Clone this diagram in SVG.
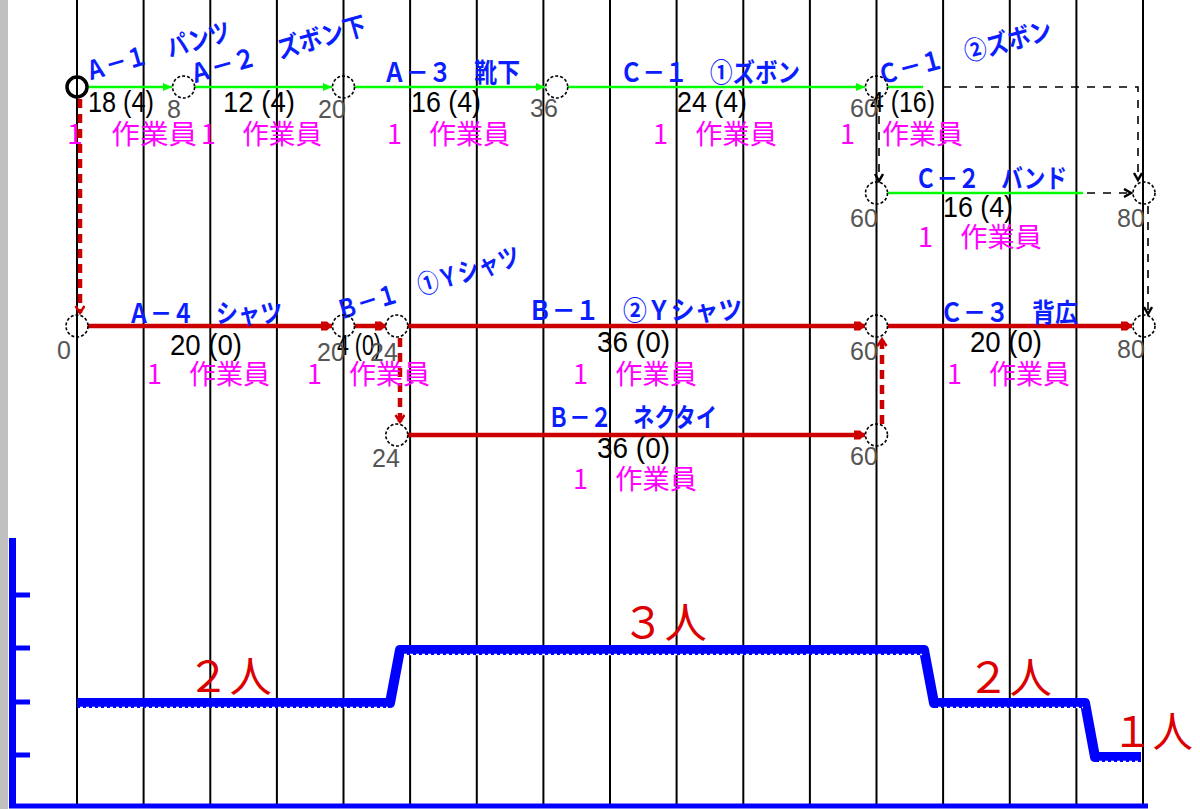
<svg xmlns="http://www.w3.org/2000/svg" width="1200" height="809" viewBox="0 0 1200 809">
<style>
.grid{stroke:#000;stroke-width:2}
.nd{fill:none;stroke:#000;stroke-width:1.6;stroke-dasharray:3 2}
.nds{fill:none;stroke:#000;stroke-width:3.5}
.num{font-family:"Liberation Sans",sans-serif;font-size:25px;fill:#555}
.gr{stroke:#00ff00;stroke-width:2.5;fill:none}
.rd{stroke:#cc0000;stroke-width:4.5;fill:none}
.rdd{stroke:#cc0000;stroke-width:4.5;fill:none;stroke-dasharray:9 6}
.bkd{stroke:#000;stroke-width:1.6;fill:none;stroke-dasharray:8 8}
.lbl{font-family:"Noto Sans CJK JP",sans-serif;font-weight:bold;font-size:26px;fill:#0a1eff}
.dur{font-family:"Liberation Sans",sans-serif;font-size:29px;fill:#000}
.crew{font-family:"Noto Sans CJK JP",sans-serif;font-size:27px;fill:#ff00ff}
.ppl{font-family:"Noto Sans CJK JP",sans-serif;font-size:42px;fill:#dd0000}
.ax{stroke:#0000ff;fill:none}
</style>
<defs>
<marker id="ag" markerUnits="userSpaceOnUse" markerWidth="10" markerHeight="10" refX="9" refY="4" orient="auto"><path d="M0,0 L9,4 L0,8 z" fill="#00ff00"/></marker>
<marker id="ar" markerUnits="userSpaceOnUse" markerWidth="12" markerHeight="12" refX="11" refY="5" orient="auto"><path d="M0,0.5 L6,0.5 L11,5 L6,9.5 L0,9.5 z" fill="#cc0000"/></marker>
<marker id="av" markerUnits="userSpaceOnUse" markerWidth="12" markerHeight="12" refX="8" refY="5" orient="auto"><path d="M1,0.5 L8,5 L1,9.5" fill="none" stroke="#cc0000" stroke-width="2.5"/></marker>
<marker id="ak" markerUnits="userSpaceOnUse" markerWidth="12" markerHeight="12" refX="8" refY="5" orient="auto"><path d="M1,1 L8,5 L1,9" fill="none" stroke="#000" stroke-width="2.5"/></marker>
</defs>
<rect x="0" y="0" width="1200" height="809" fill="#fff"/>
<rect x="0" y="0" width="8" height="809" fill="#c0c0c0"/>
<g id="grid">
<line class="grid" x1="77" y1="0" x2="77" y2="804"/>
<line class="grid" x1="143.6" y1="0" x2="143.6" y2="804"/>
<line class="grid" x1="210.3" y1="0" x2="210.3" y2="804"/>
<line class="grid" x1="276.9" y1="0" x2="276.9" y2="804"/>
<line class="grid" x1="343.5" y1="0" x2="343.5" y2="804"/>
<line class="grid" x1="410.1" y1="0" x2="410.1" y2="804"/>
<line class="grid" x1="476.8" y1="0" x2="476.8" y2="804"/>
<line class="grid" x1="543.4" y1="0" x2="543.4" y2="804"/>
<line class="grid" x1="610" y1="0" x2="610" y2="804"/>
<line class="grid" x1="676.6" y1="0" x2="676.6" y2="804"/>
<line class="grid" x1="743.3" y1="0" x2="743.3" y2="804"/>
<line class="grid" x1="809.9" y1="0" x2="809.9" y2="804"/>
<line class="grid" x1="876.5" y1="0" x2="876.5" y2="804"/>
<line class="grid" x1="943.1" y1="0" x2="943.1" y2="804"/>
<line class="grid" x1="1009.8" y1="0" x2="1009.8" y2="804"/>
<line class="grid" x1="1076.4" y1="0" x2="1076.4" y2="804"/>
<line class="grid" x1="1143" y1="0" x2="1143" y2="804"/>
</g>
<g id="connectors">
<path class="gr" d="M88,87 L172,87" marker-end="url(#ag)"/>
<path class="gr" d="M195,87 L332,87" marker-end="url(#ag)"/>
<path class="gr" d="M355,87 L545,87" marker-end="url(#ag)"/>
<path class="gr" d="M568,87 L865,87" marker-end="url(#ag)"/>
<path class="gr" d="M888,87 L923,87"/>
<path class="bkd" d="M943,87 L1138,87 L1138,180" marker-end="url(#ak)"/>
<path class="bkd" d="M879,100 L879,181" marker-end="url(#ak)"/>
<path class="gr" d="M888,193 L1083,193"/>
<path class="bkd" d="M1087,193 L1131,193" marker-end="url(#ak)"/>
<path class="bkd" d="M1148,206 L1148,314" marker-end="url(#ak)"/>
<path class="rdd" d="M80,99 L80,313" marker-end="url(#av)"/>
<path class="rd" d="M88,326 L332,326" marker-end="url(#ar)"/>
<path class="rd" d="M355,326 L386,326" marker-end="url(#ar)"/>
<path class="rd" d="M408,326 L865,326" marker-end="url(#ar)"/>
<path class="rd" d="M888,326 L1132,326" marker-end="url(#ar)"/>
<path class="rdd" d="M400,338 L400,422" marker-end="url(#av)"/>
<path class="rd" d="M408,435 L865,435" marker-end="url(#ar)"/>
<path class="rdd" d="M882,424 L882,339" marker-end="url(#av)"/>
</g>
<g id="edge-labels">
<text class="lbl" x="88" y="81" textLength="150" lengthAdjust="spacingAndGlyphs" transform="rotate(-16 88 81)">Ａ－１　パンツ</text>
<text class="lbl" x="192" y="84" textLength="183" lengthAdjust="spacingAndGlyphs" transform="rotate(-16 192 84)">Ａ－２　ズボン下</text>
<text class="lbl" x="383" y="82" textLength="137" lengthAdjust="spacingAndGlyphs">Ａ－３　靴下</text>
<text class="lbl" x="620" y="82" textLength="180" lengthAdjust="spacingAndGlyphs">Ｃ－１　①ズボン</text>
<text class="lbl" x="880" y="85" textLength="180" lengthAdjust="spacingAndGlyphs" transform="rotate(-15 880 85)">Ｃ－１　②ズボン</text>
<text class="lbl" x="915" y="188" textLength="152" lengthAdjust="spacingAndGlyphs">Ｃ－２　バンド</text>
<text class="lbl" x="128" y="323" textLength="154" lengthAdjust="spacingAndGlyphs">Ａ－４　シャツ</text>
<text class="lbl" x="340" y="320" textLength="190" lengthAdjust="spacingAndGlyphs" transform="rotate(-17 340 320)">Ｂ－１　①Ｙシャツ</text>
<text class="lbl" x="528" y="320" textLength="214" lengthAdjust="spacingAndGlyphs">Ｂ－１　②Ｙシャツ</text>
<text class="lbl" x="548" y="427" textLength="169" lengthAdjust="spacingAndGlyphs">Ｂ－２　ネクタイ</text>
<text class="lbl" x="940" y="322" textLength="138" lengthAdjust="spacingAndGlyphs">Ｃ－３　背広</text>
<text class="dur" x="88" y="112" textLength="66" lengthAdjust="spacingAndGlyphs">18 (4)</text>
<text class="dur" x="223" y="112" textLength="72" lengthAdjust="spacingAndGlyphs">12 (4)</text>
<text class="dur" x="411" y="112" textLength="70" lengthAdjust="spacingAndGlyphs">16 (4)</text>
<text class="dur" x="677" y="112" textLength="70" lengthAdjust="spacingAndGlyphs">24 (4)</text>
<text class="dur" x="870" y="112" textLength="65" lengthAdjust="spacingAndGlyphs">4 (16)</text>
<text class="dur" x="943" y="217" textLength="70" lengthAdjust="spacingAndGlyphs">16 (4)</text>
<text class="dur" x="170" y="355" textLength="72" lengthAdjust="spacingAndGlyphs">20 (0)</text>
<text class="dur" x="337" y="355" textLength="44" lengthAdjust="spacingAndGlyphs">4 (0)</text>
<text class="dur" x="597" y="352" textLength="73" lengthAdjust="spacingAndGlyphs">36 (0)</text>
<text class="dur" x="597" y="458" textLength="73" lengthAdjust="spacingAndGlyphs">36 (0)</text>
<text class="dur" x="970" y="352" textLength="72" lengthAdjust="spacingAndGlyphs">20 (0)</text>
<text class="crew" x="67" y="144" textLength="130" lengthAdjust="spacingAndGlyphs">1　作業員</text>
<text class="crew" x="201" y="144" textLength="121" lengthAdjust="spacingAndGlyphs">1　作業員</text>
<text class="crew" x="387" y="144" textLength="123" lengthAdjust="spacingAndGlyphs">1　作業員</text>
<text class="crew" x="653" y="144" textLength="124" lengthAdjust="spacingAndGlyphs">1　作業員</text>
<text class="crew" x="840" y="144" textLength="123" lengthAdjust="spacingAndGlyphs">1　作業員</text>
<text class="crew" x="918" y="247" textLength="124" lengthAdjust="spacingAndGlyphs">1　作業員</text>
<text class="crew" x="147" y="384" textLength="123" lengthAdjust="spacingAndGlyphs">1　作業員</text>
<text class="crew" x="307" y="384" textLength="123" lengthAdjust="spacingAndGlyphs">1　作業員</text>
<text class="crew" x="573" y="384" textLength="124" lengthAdjust="spacingAndGlyphs">1　作業員</text>
<text class="crew" x="947" y="384" textLength="123" lengthAdjust="spacingAndGlyphs">1　作業員</text>
<text class="crew" x="573" y="489" textLength="124" lengthAdjust="spacingAndGlyphs">1　作業員</text>
</g>
<g id="n0-top"><circle class="nds" cx="77" cy="87" r="10"/></g>
<g id="n8"><circle class="nd" cx="183.6" cy="87" r="11"/><text class="num" x="167" y="118">8</text></g>
<g id="n20-top"><circle class="nd" cx="343.5" cy="87" r="11"/><text class="num" x="318" y="118">20</text></g>
<g id="n36"><circle class="nd" cx="556.7" cy="87" r="11"/><text class="num" x="530" y="117">36</text></g>
<g id="n60-top"><circle class="nd" cx="876.5" cy="87" r="11"/><text class="num" x="850" y="117">60</text></g>
<g id="n60-c2"><circle class="nd" cx="876.5" cy="193" r="11"/><text class="num" x="850" y="227">60</text></g>
<g id="n80-c2"><circle class="nd" cx="1144" cy="193" r="11"/><text class="num" x="1117" y="227">80</text></g>
<g id="n0-mid"><circle class="nd" cx="77" cy="326" r="11"/><text class="num" x="57" y="359">0</text></g>
<g id="n20-mid"><circle class="nd" cx="343.5" cy="326" r="11"/><text class="num" x="317" y="361">20</text></g>
<g id="n24-mid"><circle class="nd" cx="396.8" cy="326" r="11"/><text class="num" x="370" y="361">24</text></g>
<g id="n60-mid"><circle class="nd" cx="876.5" cy="326" r="11"/><text class="num" x="850" y="360">60</text></g>
<g id="n80-mid"><circle class="nd" cx="1144" cy="326" r="11"/><text class="num" x="1117" y="358">80</text></g>
<g id="n24-bot"><circle class="nd" cx="396.8" cy="435" r="11"/><text class="num" x="372" y="467">24</text></g>
<g id="n60-bot"><circle class="nd" cx="876.5" cy="435" r="11"/><text class="num" x="850" y="465">60</text></g>
<g id="load-chart">
<path class="ax" stroke-width="7" d="M12.5,538 L12.5,806"/>
<path class="ax" stroke-width="5" d="M9,806 L1148,806"/>
<path class="ax" stroke-width="5" d="M12,595 L30,595 M12,648 L30,648 M12,702 L30,702 M12,755 L30,755"/>
<path class="ax" stroke-width="10" stroke-linejoin="round" d="M77,703 L390,703 L400,650 L924,650 L934,703 L1085,703 L1095,757 L1141,757"/>
<path fill="none" stroke="#fff" stroke-width="1.5" stroke-dasharray="3 3" d="M80,707.5 L388,707.5 M404,654.5 L922,654.5 M938,707.5 L1083,707.5 M1099,761.5 L1140,761.5"/>
<text class="ppl" x="187" y="692" textLength="85" lengthAdjust="spacingAndGlyphs">２人</text>
<text class="ppl" x="622" y="638" textLength="85" lengthAdjust="spacingAndGlyphs">３人</text>
<text class="ppl" x="967" y="693" textLength="85" lengthAdjust="spacingAndGlyphs">２人</text>
<text class="ppl" x="1112" y="747" textLength="81" lengthAdjust="spacingAndGlyphs">１人</text>
</g>
</svg>
